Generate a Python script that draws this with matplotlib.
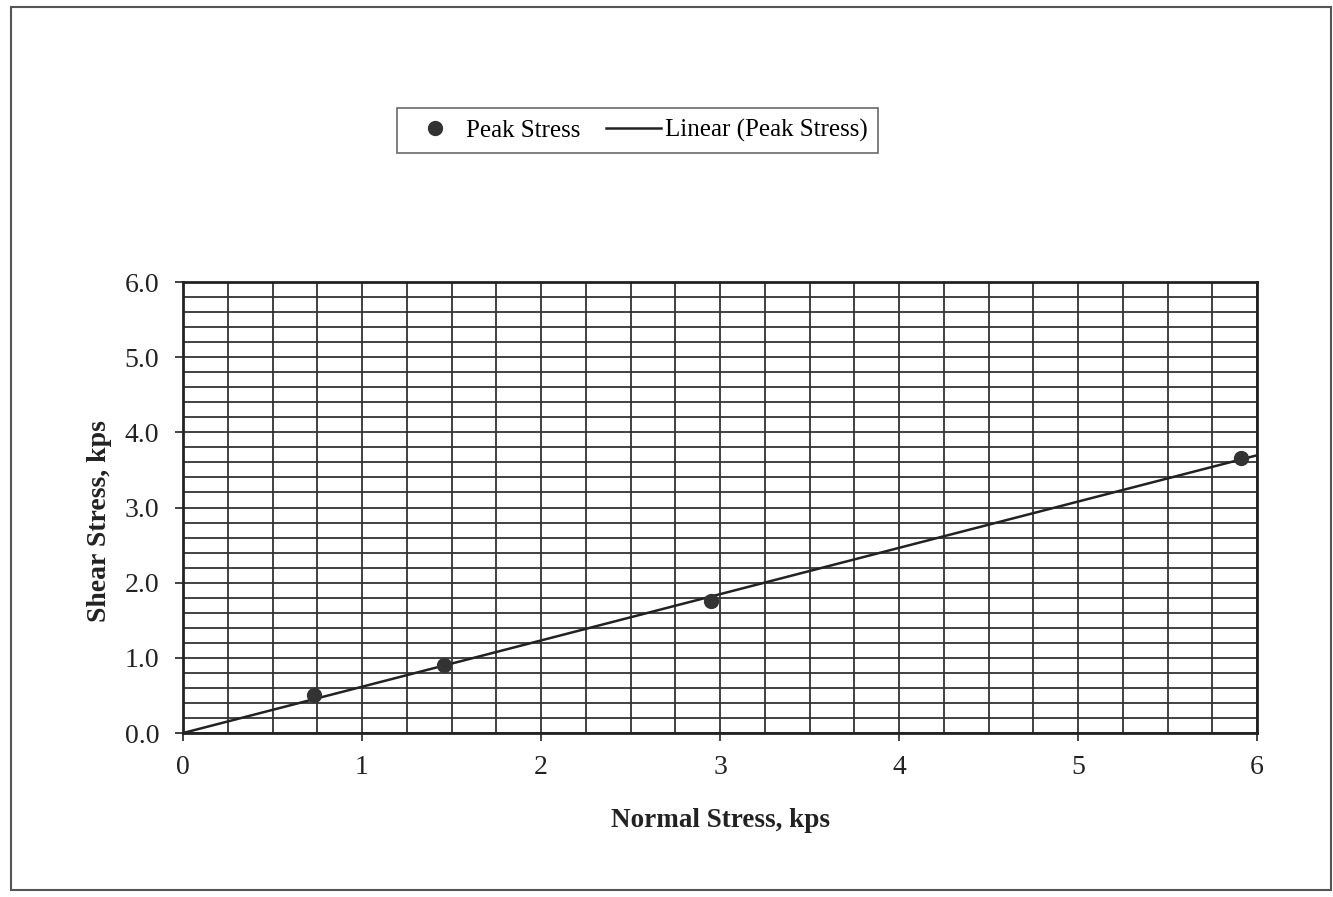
"""Shear stress vs normal stress with a zero-intercept linear trendline."""

import matplotlib

matplotlib.use("Agg")
import matplotlib.pyplot as plt
import numpy as np
from matplotlib.patches import Rectangle
from matplotlib.ticker import MultipleLocator

plt.rcParams["font.family"] = ["Liberation Serif", "DejaVu Serif"]

# Values
normal_stress = [0.73, 1.46, 2.95, 5.91]
peak_shear = [0.51, 0.90, 1.76, 3.66]
x_ticks = [0, 1, 2, 3, 4, 5, 6]
y_ticks = [0.0, 1.0, 2.0, 3.0, 4.0, 5.0, 6.0]

x = np.asarray(normal_stress)
y = np.asarray(peak_shear)
slope = np.sum(x * y) / np.sum(x * x)
fit_x = np.array([0.0, 6.0])
fit_y = slope * fit_x

fig = plt.figure(figsize=(13.33, 8.97), dpi=100)
ax = fig.add_axes([0.1373, 0.1828, 0.943 - 0.1373, 0.6856 - 0.1828])

ax.plot(fit_x, fit_y, color="#222222", linewidth=1.8,
        label="Linear (Peak Stress)", zorder=3)
ax.plot(x, y, linestyle="none", marker="o", markersize=10,
        color="#333333", label="Peak Stress", zorder=4)

ax.set_xlim(0, 6)
ax.set_ylim(0, 6)
ax.set_xticks(x_ticks)
ax.set_yticks(y_ticks)
ax.set_yticklabels([f"{v:.1f}" for v in y_ticks])
ax.xaxis.set_minor_locator(MultipleLocator(0.25))
ax.yaxis.set_minor_locator(MultipleLocator(0.2))
ax.grid(True, which="both", color="#333333", linewidth=1.3)
ax.set_axisbelow(True)
ax.tick_params(which="major", direction="out", length=6, width=1.2,
               labelsize=20, colors="#222222")
ax.tick_params(axis="x", which="major", pad=10)
ax.tick_params(axis="y", which="major", pad=11)
ax.tick_params(which="minor", length=0)
for spine in ax.spines.values():
    spine.set_linewidth(2)
    spine.set_color("#222222")

ax.set_xlabel("Normal Stress, kps", fontsize=19.5, fontweight="bold",
              labelpad=20, color="#222222")
ax.set_ylabel("Shear Stress, kps", fontsize=20, fontweight="bold",
              color="#222222")
ax.yaxis.set_label_coords(-0.066, 0.47)

handles, labels = ax.get_legend_handles_labels()
leg = fig.legend(handles[::-1], labels[::-1], loc="center",
                 bbox_to_anchor=(637.5 / 1333, 1 - 130.5 / 897), ncol=2,
                 fontsize=18, frameon=True, fancybox=False, edgecolor="#444444",
                 handlelength=2.2, handletextpad=0.15, columnspacing=1.0,
                 borderpad=0.42)
leg.get_frame().set_linewidth(1.2)

fig.patches.append(Rectangle((11 / 1333, 1 - 890 / 897), 1320 / 1333, 883 / 897,
                             transform=fig.transFigure, fill=False,
                             edgecolor="#555555", linewidth=1.5))

fig.savefig("out.png", dpi=100)
